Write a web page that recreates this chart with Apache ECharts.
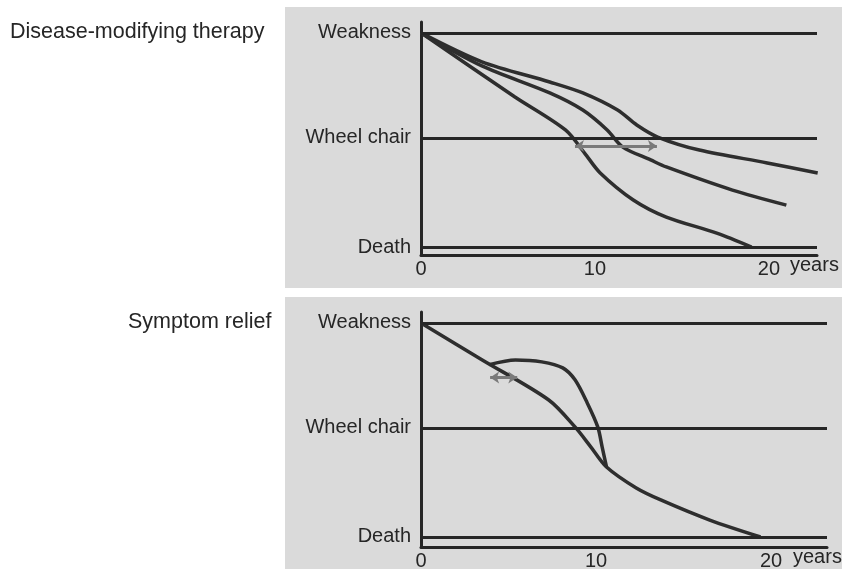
<!DOCTYPE html>
<html>
<head>
<meta charset="utf-8">
<script src="https://cdn.jsdelivr.net/npm/echarts@6/dist/echarts.min.js"></script>
<style>
  html, body { margin: 0; padding: 0; background: #fff; }
  #chart { width: 846px; height: 571px; }
</style>
</head>
<body>
<div id="chart"></div>
<script>
  // levels on the y axis (Death = 0, Weakness = 100)
  const levelNames = ['Death', 'Wheel chair', 'Weakness'];
  const levelValues = [0, 51, 100];
  const yearTicks = [0, 10, 20];

  // disease-modifying therapy: [years, level]
  const dmtSlowest = [[0, 100], [3.5, 86.5], [7.4, 77.1], [9.3, 72.0], [11.3, 64.0], [12.4, 57.0], [13.6, 51.4], [16.0, 45.3], [19.9, 39.3], [22.8, 34.6]];
  const dmtMiddle = [[0, 100], [3.5, 84.6], [7.4, 72.0], [9.3, 64.0], [10.7, 54.7], [11.6, 46.7], [13.2, 40.7], [14.1, 37.4], [17.9, 26.6], [21.0, 19.6]];
  const dmtNatural = [[0, 100], [5.4, 70.1], [8.3, 54.7], [9.4, 43.9], [10.3, 34.6], [12.2, 22.0], [14.1, 14.0], [17.0, 6.5], [19.0, 0]];
  const dmtDelay = [[8.85, 47.2], [13.56, 47.2]];

  // symptom relief
  const srNatural = [[0, 100], [3.5, 82.7], [7.3, 64.0], [8.8, 51.4], [9.7, 42.1], [10.6, 32.7], [12.3, 22.9], [13.7, 17.3], [16.5, 7.9], [19.4, 0]];
  const srRelief = [[3.9, 80.5], [5.4, 82.7], [6.9, 81.8], [8.1, 79.0], [8.8, 73.4], [9.5, 62.6], [10.1, 51.4], [10.35, 42.1], [10.6, 32.7]];
  const srShift = [[3.95, 74.5], [5.5, 74.5]];

  const ink = '#262626';
  const font = 'Liberation Sans, Arial, sans-serif';

  const chart = echarts.init(document.getElementById('chart'));

  const xAxisFor = (idx, max, gap) => ({
    type: 'value', gridIndex: idx, min: 0, max: max,
    name: 'years', nameLocation: 'end', nameGap: gap,
    nameTextStyle: { color: ink, fontSize: 20, fontFamily: font, verticalAlign: 'top', padding: 0 },
    axisLine: { show: true, onZero: false, lineStyle: { color: ink, width: 3 } },
    axisTick: { show: false },
    splitLine: { show: false },
    axisLabel: { customValues: yearTicks, color: ink, fontSize: 20, fontFamily: font, margin: 4 }
  });

  const yAxisFor = (idx, min) => ({
    type: 'value', gridIndex: idx, min: min, max: 105.1,
    axisLine: { show: true, onZero: false, lineStyle: { color: ink, width: 3 } },
    axisTick: { show: false },
    splitLine: { show: false },
    axisLabel: {
      customValues: levelValues, color: ink, fontSize: 20, fontFamily: font, margin: 10,
      formatter: v => levelNames[levelValues.indexOf(v)]
    }
  });

  const curve = (data, idx) => ({
    type: 'line', data: data, xAxisIndex: idx, yAxisIndex: idx,
    showSymbol: false, smooth: 0.3, silent: true,
    lineStyle: { color: '#2e2e2e', width: 3.5 }
  });

  const levels = idx => ({
    type: 'line', data: [], xAxisIndex: idx, yAxisIndex: idx, silent: true,
    markLine: {
      symbol: 'none', silent: true, animation: false,
      label: { show: false },
      lineStyle: { type: 'solid', color: ink, width: 3 },
      data: levelValues.map(v => ({ yAxis: v }))
    }
  });

  const arrow = (pts, idx) => ({
    type: 'line', data: [], xAxisIndex: idx, yAxisIndex: idx, silent: true,
    markLine: {
      symbol: ['arrow', 'arrow'], symbolSize: 9, silent: true, animation: false,
      label: { show: false },
      lineStyle: { type: 'solid', color: '#7a7a7a', width: 3 },
      data: [[{ coord: pts[0] }, { coord: pts[1] }]]
    }
  });

  chart.setOption({
    animation: false,
    backgroundColor: '#ffffff',
    graphic: [
      { type: 'rect', z: -10, shape: { x: 285, y: 7, width: 557, height: 281 }, style: { fill: '#dadada' } },
      { type: 'rect', z: -10, shape: { x: 285, y: 297, width: 557, height: 272 }, style: { fill: '#dadada' } }
    ],
    title: [
      { text: 'Disease-modifying therapy', left: 10, top: 21, padding: 0, textStyle: { color: ink, fontSize: 21.5, fontWeight: 'normal', fontFamily: font } },
      { text: 'Symptom relief', left: 128, top: 311, padding: 0, textStyle: { color: ink, fontSize: 21.5, fontWeight: 'normal', fontFamily: font } }
    ],
    grid: [
      { left: 421, top: 22, width: 396, height: 233 },
      { left: 421, top: 312, width: 406, height: 235 }
    ],
    xAxis: [xAxisFor(0, 22.76, -27), xAxisFor(1, 23.2, -34)],
    yAxis: [yAxisFor(0, -3.7), yAxisFor(1, -4.7)],
    series: [
      levels(0),
      curve(dmtSlowest, 0),
      curve(dmtMiddle, 0),
      curve(dmtNatural, 0),
      arrow(dmtDelay, 0),
      levels(1),
      curve(srNatural, 1),
      curve(srRelief, 1),
      arrow(srShift, 1)
    ]
  });
</script>
</body>
</html>
